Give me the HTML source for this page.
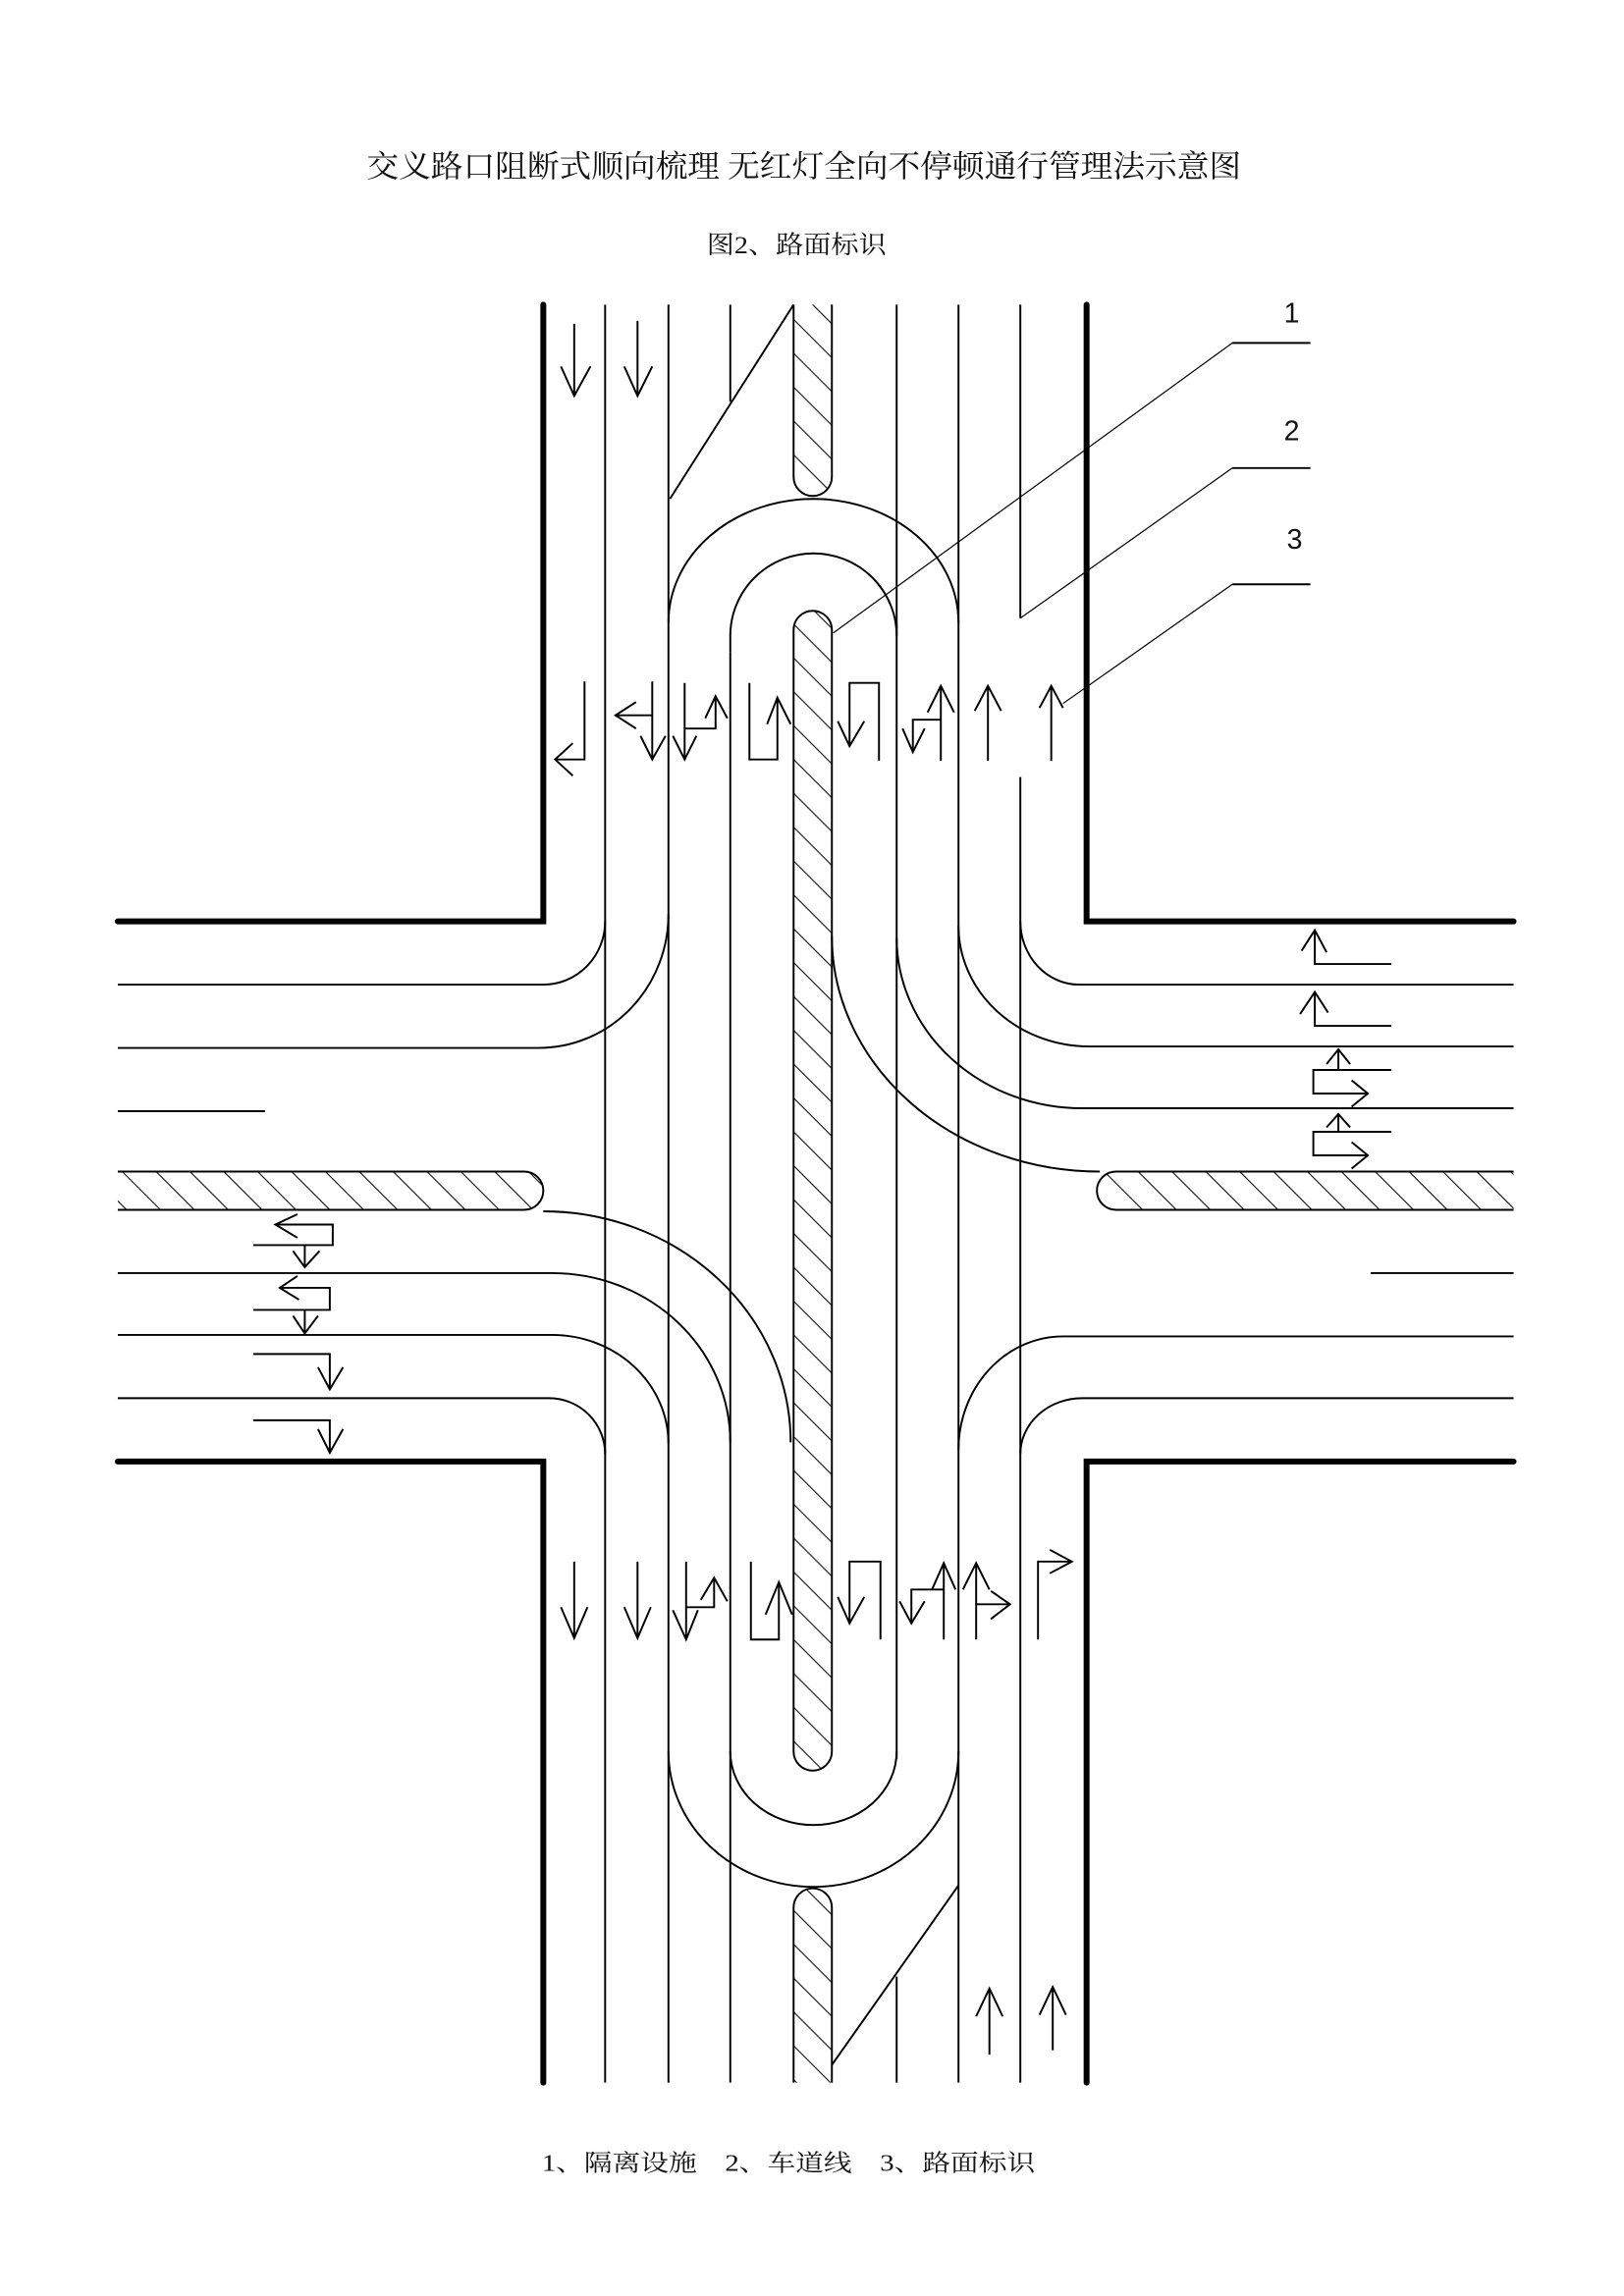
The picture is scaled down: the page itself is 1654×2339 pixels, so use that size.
<!DOCTYPE html>
<html><head><meta charset="utf-8"><style>
html,body{margin:0;padding:0;background:#fff;}
svg{display:block;}
text{font-family:"Liberation Serif","Noto Serif CJK SC","Noto Sans CJK SC",serif;fill:#111;}
</style></head><body>
<svg width="1654" height="2339" viewBox="0 0 1103 1560" preserveAspectRatio="none" xmlns="http://www.w3.org/2000/svg">
<defs>
<pattern id="h" patternUnits="userSpaceOnUse" width="23" height="23">
<path d="M-2 -2 L25 25 M-25 -2 L2 25 M21 -2 L48 25" stroke="#000" stroke-width="0.7"/>
</pattern>
</defs>
<rect width="1103" height="1560" fill="#fff"/>
<text x="249" y="120" font-size="21" textLength="594" lengthAdjust="spacingAndGlyphs">交义路口阻断式顺向梳理 无红灯全向不停顿通行管理法示意图</text>
<text x="480" y="172" font-size="17" textLength="122" lengthAdjust="spacingAndGlyphs">图2、路面标识</text>
<text x="368" y="1475" font-size="16" textLength="335" lengthAdjust="spacingAndGlyphs" xml:space="preserve">1、隔离设施    2、车道线    3、路面标识</text>

<g fill="none" stroke="#000" stroke-width="4" stroke-linecap="round">
<path d="M369 207 V626 H80"/>
<path d="M738 207 V626 H1028"/>
<path d="M80 993 H369 V1415"/>
<path d="M1028 993 H738 V1415"/>
</g>

<!-- medians -->
<g fill="url(#h)" stroke="#000" stroke-width="1.3">
<path d="M539 207 V324 A13 13 0 0 0 565 324 V207"/>
<path d="M539 428 A13 13 0 0 1 565 428 V1190 A13 13 0 0 1 539 1190 Z"/>
<path d="M539 1415 V1296 A13 13 0 0 1 565 1296 V1415"/>
<path d="M80 796 H356 A13 13 0 0 1 356 822 H80"/>
<path d="M1028 796 H758 A13 13 0 0 0 758 822 H1028"/>
</g>

<g fill="none" stroke="#000" stroke-width="1.3">
<!-- verticals -->
<path d="M411 207 V1415 M454 207 V1415 M496 207 V273 M496 443 V1415 M609 207 V1195 M609 1343 V1415 M651 207 V1415 M693 207 V420 M693 528 V1415"/>
<!-- diagonals -->
<path d="M539 207 L455 339 M651 1281 L565 1403"/>
<!-- U turns -->
<path d="M454 423 A98.5 84 0 0 1 651 423"/>
<path d="M496 443 V432 A56.5 56 0 0 1 609 432 V423"/>
<path d="M454 1190 A98.5 92 0 0 0 651 1190"/>
<path d="M496 1190 A56.5 50 0 0 0 609 1190"/>
<!-- left horizontals -->
<path d="M80 669 H369 A42 43 0 0 0 411 626"/>
<path d="M80 712 H366 A88 91 0 0 0 454 621"/>
<path d="M80 755 H180"/>
<path d="M80 865 H375 A121 115 0 0 1 496 980"/>
<path d="M80 907 H375 A79 74 0 0 1 454 981"/>
<path d="M80 950 H373 A38 38 0 0 1 411 988"/>
<path d="M369 823 A168 157 0 0 1 537 980"/>
<!-- right horizontals -->
<path d="M693 626 A40 43 0 0 0 733 669 H1028"/>
<path d="M651 629 A89 82 0 0 0 740 711 H1028"/>
<path d="M609 637 A126 116 0 0 0 735 753 H1028"/>
<path d="M565 636 A182 160 0 0 0 747 796"/>
<path d="M931 865 H1028"/>
<path d="M1028 908 H722 A71 77 0 0 0 651 985"/>
<path d="M1028 950 H735 A42 38 0 0 0 693 988"/>

<!-- top entry arrows -->
<path d="M390 220 V269 M381 249 L390 269 L401 249"/>
<path d="M433 218 V269 M424 249 L433 269 L443 249"/>

<!-- top row arrows -->
<path d="M397 463 V516 H377 M389 505 L377 516 L389 527"/>
<path d="M443 463 V516 M435 500 L443 516 L452 500 M443 486 H418 M432 477 L418 486 L432 495"/>
<path d="M465 464 V516 M457 500 L465 516 L473 500 M465 495 H486 V473 M479 488 L486 473 L494 488"/>
<path d="M509 464 V516 H528 V474 M521 492 L528 474 L537 492"/>
<path d="M577 507 V464 H597 V517 M569 490 L577 507 L587 490"/>
<path d="M639 517 V466 M630 484 L639 466 L648 484 M639 489 H620 V511 M613 495 L620 511 L628 495"/>
<path d="M671 517 V466 M662 483 L671 466 L680 483"/>
<path d="M714 517 V466 M706 481 L714 466 L722 481"/>

<!-- bottom row arrows -->
<path d="M390 1061 V1113 M381 1092 L390 1113 L399 1092"/>
<path d="M433 1061 V1113 M424 1092 L433 1113 L442 1092"/>
<path d="M466 1061 V1114 M457 1094 L466 1114 L474 1094 M466 1092 H485 V1072 M476 1087 L485 1072 L494 1088"/>
<path d="M510 1061 V1114 H529 V1075 M520 1097 L529 1075 L538 1097"/>
<path d="M577 1103 V1061 H598 V1114 M569 1085 L577 1103 L587 1085"/>
<path d="M641 1114 V1062 M633 1080 L641 1062 L649 1080 M641 1080 H619 V1103 M611 1088 L619 1103 L628 1088"/>
<path d="M663 1114 V1062 M654 1080 L663 1062 L672 1080 M663 1090 H686 M673 1081 L686 1090 L673 1100"/>
<path d="M705 1114 V1061 H728 M713 1053 L728 1061 L713 1069"/>
<path d="M672 1396 V1351 M663 1370 L672 1351 L681 1370"/>
<path d="M715 1393 V1350 M706 1369 L715 1350 L724 1369"/>

<!-- left arrows -->
<path d="M172 846 H226 V832 H187 M202 825 L187 832 L202 841 M207 846 V861 M199 850 L207 861 L217 850"/>
<path d="M172 890 H224 V875 H190 M202 867 L190 875 L203 883 M207 890 V906 M199 894 L207 906 L216 894"/>
<path d="M172 920 H224 V944 M216 929 L224 944 L233 929"/>
<path d="M172 965 H224 V987 M216 971 L224 987 L233 971"/>

<!-- right arrows -->
<path d="M945 655 H893 V632 M884 646 L893 632 L901 647"/>
<path d="M945 697 H893 V674 M883 689 L893 674 L902 688"/>
<path d="M945 727 H892 V743 H929 M909 727 V713 M901 723 L909 713 L917 723 M918 734 L929 743 L918 752"/>
<path d="M945 769 H892 V785 H929 M909 769 V757 M901 766 L909 757 L917 766 M918 776 L929 785 L918 794"/>

<!-- leaders -->
<path d="M837 233 H890 M837 318 H890 M837 397 H890"/>
</g>
<g fill="none" stroke="#000" stroke-width="0.8">
<path d="M566 430 L837 233 M693 420 L837 318 M722 478 L837 397"/>
</g>
<g font-family="Liberation Sans, sans-serif" font-size="19" fill="#222">
<text x="872" y="219" style="font-family:'Liberation Sans',sans-serif">1</text>
<text x="872" y="299" style="font-family:'Liberation Sans',sans-serif">2</text>
<text x="874" y="373" style="font-family:'Liberation Sans',sans-serif">3</text>
</g>
</svg>
</body></html>
